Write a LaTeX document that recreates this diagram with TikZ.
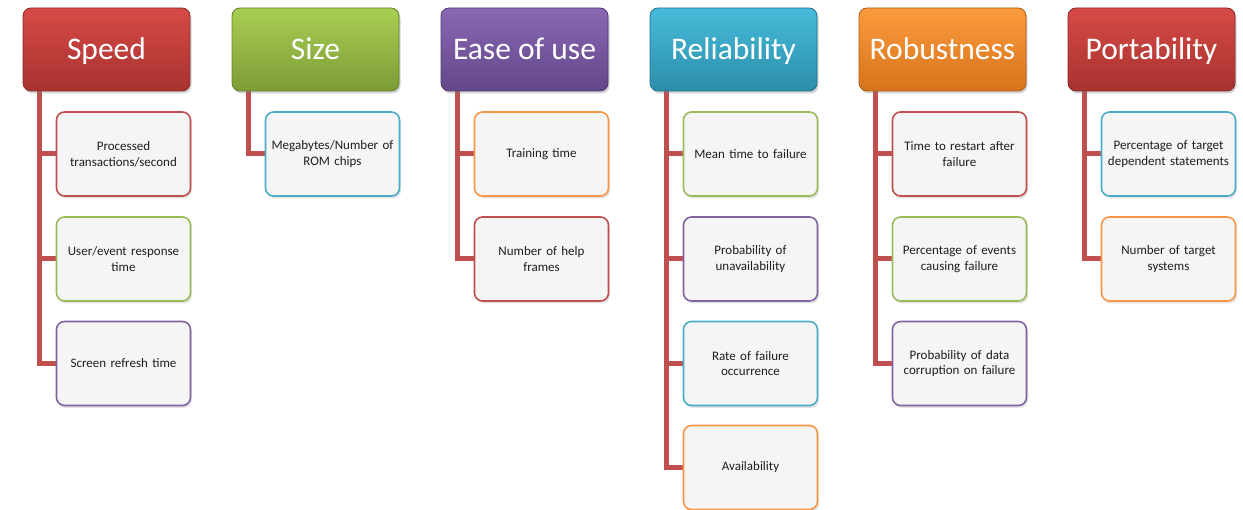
\documentclass[tikz,border=0pt]{standalone}
\usepackage{fontspec}
\setmainfont{Carlito}
\usetikzlibrary{shadows,backgrounds}
\definecolor{ored}{HTML}{C0504D}
\definecolor{ogreen}{HTML}{9BBB59}
\definecolor{opurple}{HTML}{8064A2}
\definecolor{ocyan}{HTML}{4BACC6}
\definecolor{oorange}{HTML}{F79646}
\definecolor{leafgray}{HTML}{F5F5F5}
\definecolor{leaftext}{HTML}{1E1E1E}
% header gradient colours
\definecolor{redT}{HTML}{D64A46}\definecolor{redB}{HTML}{A8322F}
\definecolor{greenT}{HTML}{A8CE52}\definecolor{greenB}{HTML}{7D9C36}
\definecolor{purpleT}{HTML}{8A68B4}\definecolor{purpleB}{HTML}{634789}
\definecolor{cyanT}{HTML}{46BCDA}\definecolor{cyanB}{HTML}{2C8DAA}
\definecolor{orangeT}{HTML}{FB9B3D}\definecolor{orangeB}{HTML}{D6731C}
\begin{document}
\begin{tikzpicture}[x=1pt,y=-1pt,
  head/.style={rounded corners=8pt, minimum width=167pt, minimum height=83pt,
    draw=#1B!80!black, line width=0.8pt,
    top color=#1T, bottom color=#1B,
    text=white, font=\fontsize{31.5}{36}\selectfont, inner sep=0pt,
    text height=27pt, text depth=6pt,
    drop shadow={opacity=0.35, shadow xshift=1.5pt, shadow yshift=-2.5pt}},
  leaf/.style={rounded corners=8pt, minimum width=134pt, minimum height=84pt,
    draw=#1, line width=1.6pt, fill=leafgray, text=leaftext,
    font=\fontsize{13}{15.7}\selectfont, align=center, text width=128pt, inner sep=0pt,
    drop shadow={opacity=0.22, shadow xshift=1.5pt, shadow yshift=-2.5pt}},
  link/.style={draw=ored, line width=5pt}
]
\useasboundingbox (0,0) rectangle (1243,510);

% headers
\node[head=red]    (h1) at (106.5,49.5)  {Speed};
\node[head=green]  (h2) at (315.5,49.5)  {Size};
\node[head=purple] (h3) at (524.5,49.5)  {Ease of use};
\node[head=cyan]   (h4) at (733.5,49.5)  {Reliability};
\node[head=orange] (h5) at (942.5,49.5)  {Robustness};
\node[head=red]    (h6) at (1151.5,49.5) {Portability};

% leaves: Speed
\node[leaf=ored]    (a1) at (123.5,154)   {Processed\\transactions/second};
\node[leaf=ogreen]  (a2) at (123.5,259)   {User/event response\\time};
\node[leaf=opurple] (a3) at (123.5,363.5) {Screen refresh time};
% Size
\node[leaf=ocyan]   (b1) at (332.5,154)   {Megabytes/Number of\\ROM chips};
% Ease of use
\node[leaf=oorange] (c1) at (541.5,154)   {Training time};
\node[leaf=ored]    (c2) at (541.5,259)   {Number of help\\frames};
% Reliability
\node[leaf=ogreen]  (d1) at (750.5,154)   {Mean time to failure};
\node[leaf=opurple] (d2) at (750.5,259)   {Probability of\\unavailability};
\node[leaf=ocyan]   (d3) at (750.5,363.5) {Rate of failure\\occurrence};
\node[leaf=oorange] (d4) at (750.5,467.5) {Availability};
% Robustness
\node[leaf=ored]    (e1) at (959.5,154)   {Time to restart after\\failure};
\node[leaf=ogreen]  (e2) at (959.5,259)   {Percentage of events\\causing failure};
\node[leaf=opurple] (e3) at (959.5,363.5) {Probability of data\\corruption on failure};
% Portability
\node[leaf=ocyan]   (f1) at (1168.5,154)  {Percentage of target\\dependent statements};
\node[leaf=oorange] (f2) at (1168.5,259)  {Number of target\\systems};

\begin{pgfonlayer}{background}
  \foreach \h/\l in {h1/a1,h1/a2,h1/a3,h2/b1,h3/c1,h3/c2,h4/d1,h4/d2,h4/d3,h4/d4,h5/e1,h5/e2,h5/e3,h6/f1,h6/f2}
    \draw[link] ([xshift=17pt]\h.south west) |- (\l.west);
\end{pgfonlayer}
\end{tikzpicture}
\end{document}
